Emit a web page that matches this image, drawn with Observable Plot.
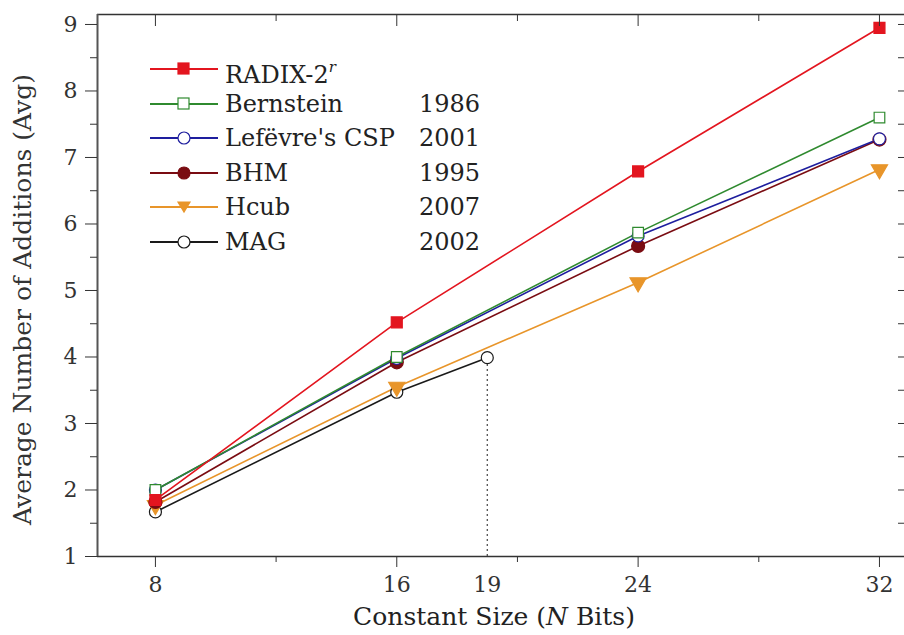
<!DOCTYPE html>
<html>
<head>
<meta charset="utf-8">
<script src="https://cdn.jsdelivr.net/npm/d3@7"></script>
<script src="https://cdn.jsdelivr.net/npm/@observablehq/plot@0.6"></script>
<style>
  html, body { margin: 0; padding: 0; background: #fff; }
  #wrap { position: relative; width: 904px; height: 635px; overflow: hidden; font-family: "DejaVu Serif", serif; color: #222; }
  #legend { position: absolute; left: 150px; top: 52px; }
  .row { position: relative; height: 34.6px; width: 340px; font-size: 24px; }
  .row svg { position: absolute; left: 0; top: 7px; }
  .row .name { position: absolute; left: 75px; top: 0px; line-height: 34px; white-space: nowrap; }
  .row .year { position: absolute; right: 10px; top: 0px; line-height: 34px; }
  #xtitle { position: absolute; top: 603px; left: 0; width: 988px; text-align: center; font-size: 25px; line-height: 28px; }
</style>
</head>
<body>
<div id="wrap">
  <div id="chart"></div>
  <div id="legend"></div>
  <div id="xtitle">Constant Size (<i>N</i> Bits)</div>
</div>
<script>
// ---- data ----
const sizes = [8, 16, 24, 32];
const radix = [1.85, 4.52, 6.79, 8.95];
const bernstein = [2.0, 4.0, 5.87, 7.6];
const lefevre = [2.0, 3.98, 5.82, 7.28];
const bhm = [1.82, 3.92, 5.67, 7.27];
const hcub = [1.77, 3.55, 5.12, 6.82];
const magSizes = [8, 16, 19];
const mag = [1.67, 3.47, 3.99];

const seriesNames = ["RADIX-2r", "Bernstein", "Lefëvre's CSP", "BHM", "Hcub", "MAG"];
const seriesYears = ["", "1986", "2001", "1995", "2007", "2002"];
const seriesColors = ["#e3151f", "#2f8a2f", "#1e1e9e", "#7a0c12", "#e8952a", "#1a1a1a"];
const seriesSymbols = ["square", "square", "circle", "circle", "triangle", "circle"];
const seriesFills = ["#e3151f", "#ffffff", "#ffffff", "#7a0c12", "#e8952a", "#ffffff"];
const seriesRotate = [0, 0, 0, 0, 180, 0];
const seriesR = [6.2, 6, 6, 6.5, 6, 6];

const xTicksMajor = [8, 16, 24, 32];
const xTicksMinor = [12, 20, 28];
const xTickLabels = [8, 16, 19, 24, 32];
const yTicksMajor = [1, 2, 3, 4, 5, 6, 7, 8, 9];
const yTicksMinor = [1.5, 2.5, 3.5, 4.5, 5.5, 6.5, 7.5, 8.5];
const xDomain = [6.08, 32.83];
const yDomain = [1, 9.15];
const markerSize = 19;
const yTitle = "Average Number of Additions (Avg)";

// build table
const seriesValues = [radix, bernstein, lefevre, bhm, hcub, mag];
const seriesX = [sizes, sizes, sizes, sizes, sizes, magSizes];
const rows = [];
seriesValues.forEach((vals, i) => {
  vals.forEach((v, j) => rows.push({series: i, x: seriesX[i][j], y: v}));
});
const dashed = [{x: markerSize, y1: yDomain[0], y2: mag[mag.length - 1]}];

const marks = [];
// axis lines
marks.push(Plot.ruleY([yDomain[0]], {stroke: "#333", strokeWidth: 1.6}));
marks.push(Plot.ruleY([yDomain[1]], {stroke: "#333", strokeWidth: 1.6}));
marks.push(Plot.ruleX([xDomain[0]], {stroke: "#555", strokeWidth: 2}));
// dotted marker at 19
marks.push(Plot.ruleX(dashed, {x: "x", y1: "y1", y2: "y2", stroke: "#444", strokeWidth: 1.2, strokeDasharray: "2,3"}));
// lines and dots (draw back to front)
for (let i = seriesValues.length - 1; i >= 0; i--) {
  const d = rows.filter(r => r.series === i);
  marks.push(Plot.line(d, {x: "x", y: "y", stroke: seriesColors[i], strokeWidth: 1.6}));
}
for (let i = seriesValues.length - 1; i >= 0; i--) {
  const d = rows.filter(r => r.series === i);
  marks.push(Plot.dot(d, {x: "x", y: "y", symbol: seriesSymbols[i], r: seriesR[i], fill: seriesFills[i],
    stroke: seriesColors[i], strokeWidth: 1.2, rotate: seriesRotate[i]}));
}
// axes
marks.push(Plot.axisY({ticks: yTicksMajor, tickSize: 12, tickPadding: 8, fontSize: 22, tickFormat: d3.format("d"),
  label: null, stroke: "#333"}));
marks.push(Plot.text([yTitle], {frameAnchor: "left", text: d => d, rotate: -90, dx: -75, dy: 14,
  fontSize: 25, fill: "#333", textAnchor: "middle", lineAnchor: "middle"}));
marks.push(Plot.axisY({ticks: yTicksMinor, tickSize: 7, text: null, label: null, stroke: "#333"}));
marks.push(Plot.axisY({anchor: "right", ticks: yTicksMajor.concat(yTicksMinor), tickSize: -7, text: null, label: null, stroke: "#333"}));
marks.push(Plot.axisX({ticks: xTickLabels, tickSize: 0, tickPadding: 20, fontSize: 22, tickFormat: d3.format("d"), label: null}));
marks.push(Plot.axisX({ticks: xTicksMajor, tickSize: 11, text: null, label: null, stroke: "#333"}));
marks.push(Plot.axisX({ticks: xTicksMinor, tickSize: 6, text: null, label: null, stroke: "#333"}));
marks.push(Plot.axisX({anchor: "top", ticks: xTicksMajor, tickSize: -11, text: null, label: null, stroke: "#333"}));
marks.push(Plot.axisX({anchor: "top", ticks: xTicksMinor, tickSize: -6, text: null, label: null, stroke: "#333"}));

const chart = Plot.plot({
  width: 904,
  height: 635,
  marginLeft: 97,
  marginRight: 0,
  marginTop: 14,
  marginBottom: 79,
  x: {domain: xDomain},
  y: {domain: yDomain},
  style: {fontFamily: "'DejaVu Serif', serif", fontSize: "25px", color: "#333", background: "#fff"},
  marks
});
document.getElementById("chart").appendChild(chart);

// legend
const legend = document.getElementById("legend");
seriesNames.forEach((name, i) => {
  const row = document.createElement("div");
  row.className = "row";
  const sym = seriesSymbols[i];
  const c = seriesColors[i], f = seriesFills[i];
  let marker = "";
  if (sym === "square") marker = `<rect x="28" y="4" width="11" height="11" fill="${f}" stroke="${c}" stroke-width="1.2"/>`;
  else if (sym === "circle") marker = `<circle cx="34" cy="10" r="6" fill="${f}" stroke="${c}" stroke-width="1.2"/>`;
  else marker = `<path d="M28,5 L40,5 L34,15 Z" fill="${f}" stroke="${c}" stroke-width="1.2"/>`;
  const label = name === "RADIX-2r" ? `RADIX-2<sup style="font-style:italic;font-size:15px;position:relative;top:-2px">r</sup>` : name;
  row.innerHTML = `<svg width="70" height="20"><line x1="0" y1="10" x2="68" y2="10" stroke="${c}" stroke-width="1.8"/>${marker}</svg>` +
    `<span class="name">${label}</span><span class="year">${seriesYears[i]}</span>`;
  legend.appendChild(row);
});
</script>
</body>
</html>
